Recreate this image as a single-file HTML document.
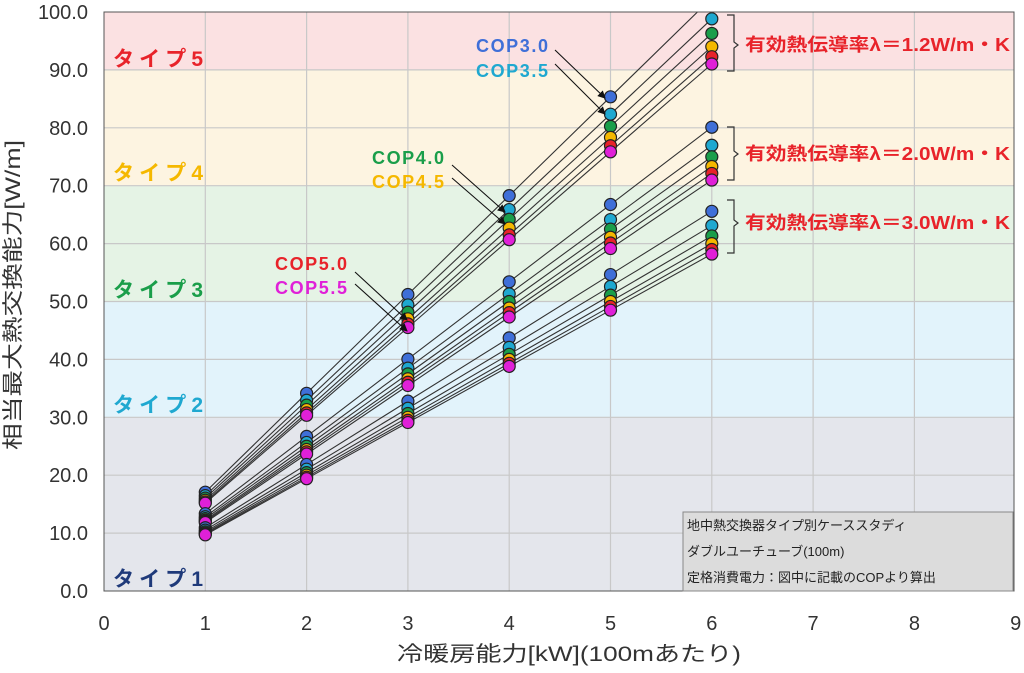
<!DOCTYPE html>
<html><head><meta charset="utf-8"><style>
body{margin:0;background:#fff;width:1024px;height:668px;overflow:hidden}
svg text{font-family:"Liberation Sans","Noto Sans CJK JP",sans-serif}
</style></head><body>
<svg id="s" width="1024" height="668" xmlns="http://www.w3.org/2000/svg">
<defs>
<clipPath id="c"><rect x="104" y="12" width="910" height="579"/></clipPath>
<marker id="ar" markerWidth="8" markerHeight="8" refX="7" refY="4" orient="auto" markerUnits="userSpaceOnUse"><path d="M0,0 L8,4 L0,8z" fill="#111"/></marker>
</defs>
<rect x="104" y="417.3" width="910" height="173.7" fill="#e4e6ec"/>
<rect x="104" y="301.5" width="910" height="115.8" fill="#e2f3fb"/>
<rect x="104" y="185.7" width="910" height="115.8" fill="#e5f3e5"/>
<rect x="104" y="69.9" width="910" height="115.8" fill="#fdf4e1"/>
<rect x="104" y="12" width="910" height="57.9" fill="#fbe1e2"/>
<g id="grid" stroke="#c8c8c8" stroke-width="1.2"></g>
<g id="lines" clip-path="url(#c)" stroke="#333" stroke-width="1.1"></g>
<g id="dots" clip-path="url(#c)" stroke="#222" stroke-width="1.2"></g>
<rect x="104" y="12" width="910" height="579" fill="none" stroke="#555" stroke-width="1"/>
<g id="ticks" font-size="20" fill="#333"></g>
<text x="20" y="295" font-size="21" fill="#333" text-anchor="middle" textLength="310" lengthAdjust="spacingAndGlyphs" transform="rotate(-90 20 295)">相当最大熱交換能力[W/m]</text>
<text x="397" y="661" font-size="21" fill="#333" textLength="344" lengthAdjust="spacingAndGlyphs">冷暖房能力[kW](100mあたり)</text>
<g font-size="21" font-weight="bold">
<text x="113" y="66" fill="#e8232a" textLength="90">タイプ5</text>
<text x="113" y="180" fill="#f5b800" textLength="90">タイプ4</text>
<text x="113" y="297" fill="#1a9e4a" textLength="90">タイプ3</text>
<text x="113" y="412" fill="#1fa8d0" textLength="90">タイプ2</text>
<text x="113" y="586" fill="#1f3a7a" textLength="90">タイプ1</text>
</g>
<g font-size="18" font-weight="bold">
<text x="476" y="52" fill="#3f6fd8" textLength="72">COP3.0</text>
<text x="476" y="77" fill="#1fa8d0" textLength="72">COP3.5</text>
<text x="372" y="164" fill="#1a9e4a" textLength="72">COP4.0</text>
<text x="372" y="188" fill="#f5b800" textLength="72">COP4.5</text>
<text x="275" y="270" fill="#e8232a" textLength="72">COP5.0</text>
<text x="275" y="294" fill="#e020d8" textLength="72">COP5.5</text>
</g>
<g stroke="#111" stroke-width="1.1" marker-end="url(#ar)">
<line x1="555" y1="50" x2="605" y2="98"/>
<line x1="555" y1="64" x2="605" y2="114"/>
<line x1="452" y1="165" x2="505" y2="212"/>
<line x1="452" y1="178" x2="505" y2="224"/>
<line x1="355" y1="272" x2="407" y2="320"/>
<line x1="355" y1="284" x2="407" y2="331"/>
</g>
<g fill="none" stroke="#333" stroke-width="1.2">
<path d="M727,15 h7 v27 l4,3 l-4,3 v23 h-7"/>
<path d="M727,127 h7 v24 l4,3 l-4,3 v23 h-7"/>
<path d="M727,200 h7 v20 l4,3 l-4,3 v27 h-7"/>
</g>
<g font-size="18" font-weight="bold" fill="#e8232a">
<text x="745" y="51" textLength="265" lengthAdjust="spacingAndGlyphs">有効熱伝導率λ＝1.2W/m・K</text>
<text x="745" y="160" textLength="265" lengthAdjust="spacingAndGlyphs">有効熱伝導率λ＝2.0W/m・K</text>
<text x="745" y="229" textLength="265" lengthAdjust="spacingAndGlyphs">有効熱伝導率λ＝3.0W/m・K</text>
</g>
<rect x="683" y="512" width="330" height="79" fill="#dcdcdc" stroke="#888"/>
<g font-size="13" fill="#222">
<text x="687" y="530">地中熱交換器タイプ別ケーススタディ</text>
<text x="687" y="556">ダブルユーチューブ(100m)</text>
<text x="687" y="582">定格消費電力：図中に記載のCOPより算出</text>
</g>
</svg>
<script>
const X=v=>104+101.3*v, Y=v=>591-5.79*v, ns="http://www.w3.org/2000/svg";
function el(p,t,a,txt){const e=document.createElementNS(ns,t);for(const k in a)e.setAttribute(k,a[k]);if(txt!=null)e.textContent=txt;document.getElementById(p).appendChild(e);}
for(let i=1;i<9;i++)el("grid","line",{x1:X(i),x2:X(i),y1:12,y2:591});
for(let j=1;j<10;j++)el("grid","line",{x1:104,x2:1014,y1:Y(j*10),y2:Y(j*10)});
for(let j=0;j<=10;j++)el("ticks","text",{x:88,y:Y(j*10)+7,"text-anchor":"end"},(j*10).toFixed(1));
for(let i=0;i<=9;i++)el("ticks","text",{x:X(i),y:630,"text-anchor":"middle"},i);
const cols=["#3f6fd8","#1fa8d0","#1a9e4a","#f5b800","#e8232a","#e020d8"];
const S=[[17.07,16.47,16.05,15.67,15.38,15.17],[13.35,12.83,12.5,12.22,12.02,11.83],[10.93,10.52,10.22,10.0,9.83,9.7]];
S.forEach(g=>g.forEach(s=>{let d="";for(let x=1;x<=6;x++)d+=(x==1?"M":"L")+X(x)+","+Y(s*x);el("lines","path",{d:d,fill:"none"});}));
for(let x=1;x<=6;x++)S.forEach(g=>{for(let k=0;k<6;k++)el("dots","circle",{cx:X(x),cy:Y(g[k]*x),r:6,fill:cols[k]});});
</script>
</body></html>
